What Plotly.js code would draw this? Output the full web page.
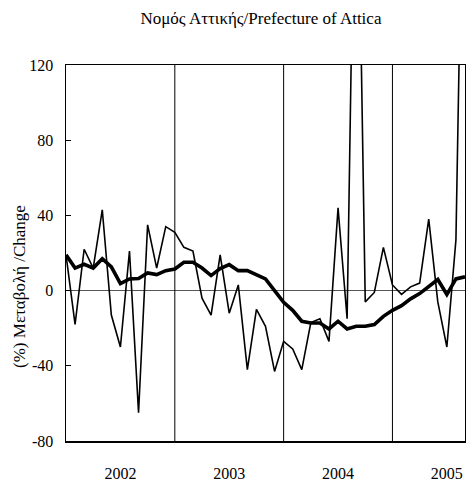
<!DOCTYPE html>
<html>
<head>
<meta charset="utf-8">
<script src="https://cdn.plot.ly/plotly-3.0.1.min.js"></script>
<style>html,body{margin:0;padding:0;background:#fff;}#chart{width:466px;height:482px;}</style>
</head>
<body>
<div id="chart"></div>
<script>
// Monthly index: 0 = Jan 2002 ... 44 = Sep 2005
const monthIndex = Array.from({length: 45}, (_, i) => i);
const monthlyChange = [
  19, -18, 22, 12, 43, -13, -30, 21, -65, 35, 12, 34,
  31, 23, 21, -4, -13, 19, -12, 3, -42, -10, -19, -43,
  -27, -31, -42, -17, -15, -27, 44, -15, 290, -6, -1, 23,
  3, -2, 2, 4, 38, -6, -30, 27, 300
];
const movingAverage = [
  19, 12, 14, 12, 17, 12.6, 3.7, 6.2, 6.4, 9.4, 8.5, 10.6,
  11.5, 15.1, 15.1, 12, 8, 11.7, 13.8, 10.6, 10.6, 8.5, 6.2, 0,
  -6.2, -10.5, -16.3, -17.2, -17.2, -20.4, -16.3, -20.4, -19, -19, -18.1, -13.7,
  -10.5, -8, -4.4, -1.6, 2.3, 5.9, -2.1, 6.2, 7.3
];
const yearLabels = ['2002', '2003', '2004', '2005'];
const yearLabelPos = [6, 18, 30, 42];
const yearBoundaries = [12, 24, 36];
const yTicks = [-80, -40, 0, 40, 80, 120];
const yTickText = ['-80', '-40', '0', '40', '80', '120'];

const font = "'Liberation Serif', 'Times New Roman', serif";

const traces = [
  {x: monthIndex, y: monthlyChange, type: 'scatter', mode: 'lines',
   line: {color: '#000', width: 1.6}, hoverinfo: 'skip'},
  {x: monthIndex, y: movingAverage, type: 'scatter', mode: 'lines',
   line: {color: '#000', width: 3.6}, hoverinfo: 'skip'}
];

const layout = {
  width: 466, height: 482,
  margin: {l: 66, r: 1, t: 65, b: 41},
  paper_bgcolor: '#fff', plot_bgcolor: '#fff',
  showlegend: false,
  font: {family: font, color: '#000', size: 15},
  title: {text: 'Νομός Αττικής/Prefecture of Attica', font: {family: font, size: 17, color: '#000'},
          x: 0.56, xanchor: 'center', y: 0.963, yanchor: 'middle'},
  xaxis: {
    range: [0, 44], tickmode: 'array', tickvals: yearLabelPos, ticktext: yearLabels,
    ticks: '', showgrid: false, zeroline: false, showline: true, linecolor: '#000', linewidth: 1.5,
    mirror: true, ticklabelstandoff: 17, tickfont: {family: font, size: 16, color: '#000'}
  },
  yaxis: {
    range: [-80, 120], tickmode: 'array', tickvals: yTicks, ticktext: yTickText,
    ticks: 'inside', ticklen: 5, tickwidth: 1, tickcolor: '#000',
    showgrid: false, zeroline: true, zerolinecolor: '#555', zerolinewidth: 1,
    showline: true, linecolor: '#000', linewidth: 1.5, mirror: true,
    ticklabelstandoff: 8, tickfont: {family: font, size: 16, color: '#000'}
  },
  shapes: yearBoundaries.map(v => ({type: 'line', xref: 'x', yref: 'paper', x0: v, x1: v, y0: 0, y1: 1,
    line: {color: '#000', width: 1}})),
  annotations: [{
    text: '(%) Μεταβολή /Change', textangle: -90, xref: 'paper', yref: 'y',
    x: -0.115, y: 2, xanchor: 'center', yanchor: 'middle', showarrow: false,
    font: {family: font, size: 17, color: '#000'}
  }]
};

Plotly.newPlot('chart', traces, layout, {displayModeBar: false, staticPlot: true});
</script>
</body>
</html>
